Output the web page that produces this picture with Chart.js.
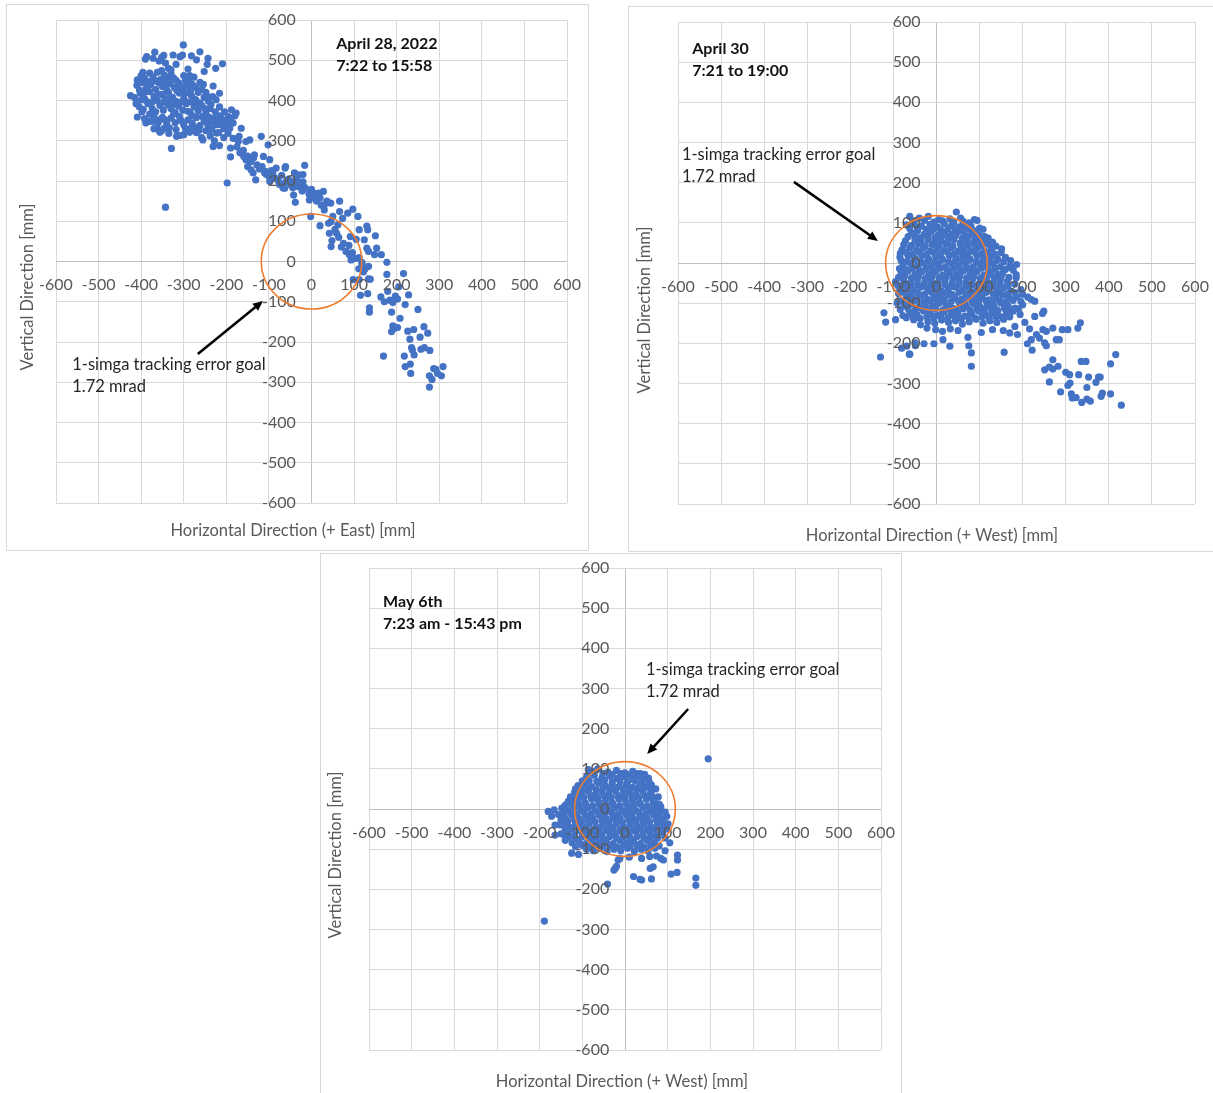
<!DOCTYPE html>
<html>
<head>
<meta charset="utf-8">
<script src="https://cdn.jsdelivr.net/npm/chart.js@4.4.1/dist/chart.umd.min.js"></script>
<style>
  html, body { margin: 0; padding: 0; background: #fff; }
  body { width: 1213px; height: 1093px; position: relative; overflow: hidden; }
  .panel { position: absolute; box-sizing: border-box; border: 1px solid #d9d9d9; background: #fff; }
  canvas { position: absolute; }
</style>
</head>
<body>
<div class="panel" style="left:6px;top:4px;width:583px;height:547px"></div>
<div class="panel" style="left:628px;top:6px;width:590px;height:546px"></div>
<div class="panel" style="left:320px;top:553px;width:582px;height:545px"></div>
<canvas id="c1" width="612" height="576" style="left:6px;top:-26px"></canvas>
<canvas id="c2" width="615" height="575" style="left:628px;top:-24px"></canvas>
<canvas id="c3" width="612" height="570" style="left:320px;top:523px"></canvas>
<script>
// Axis ticks shared by all three plots (mm)
const axisTicks = [-600, -500, -400, -300, -200, -100, 0, 100, 200, 300, 400, 500, 600];

// Radius of the 1-sigma tracking error goal circle (mm)
const goalRadius = 118;

// April 28, 2022 — beam position [horizontal (+East), vertical] in mm
const april28Points = [
  [-301,538],[-387,509],[-390,503],[-368,520],[-352,507],[-325,513],[-343,493],[-336,480],[-309,509],[-303,513],
  [-282,511],[-270,501],[-262,521],[-243,505],[-245,490],[-252,472],[-225,480],[-209,491],[-358,498],[-347,512],
  [-372,505],[-318,490],[-330,476],[-290,478],
  [-400,462],[-392,455],[-380,468],[-372,458],[-362,470],[-355,452],[-346,463],[-338,455],[-330,466],[-318,450],
  [-300,462],[-288,448],[-276,458],[-262,445],[-409,451],[-397,451],
  [-410,438],[-398,445],[-388,432],[-378,440],[-366,428],[-358,444],[-350,435],[-340,426],[-332,441],[-322,432],
  [-312,444],[-302,428],[-294,437],[-284,425],[-272,433],[-258,428],[-248,420],[-231,436],
  [-425,412],[-415,407],[-402,418],[-392,405],[-380,422],[-370,410],[-362,400],[-352,415],[-344,405],[-336,420],
  [-326,408],[-318,398],[-310,418],[-300,405],[-292,396],[-282,412],[-272,402],[-262,394],[-252,408],[-242,398],
  [-232,410],[-216,418],[-399,402],[-387,398],
  [-405,385],[-395,378],[-384,392],[-374,380],[-366,372],[-356,388],[-348,376],[-338,390],[-330,380],[-320,370],
  [-312,386],[-302,376],[-294,392],[-285,370],[-276,384],[-266,374],[-258,388],[-248,368],[-238,380],[-226,372],
  [-214,362],[-204,372],[-290,373],[-188,377],[-177,369],
  [-409,359],[-389,344],[-372,364],[-358,352],[-392,355],[-380,348],[-370,362],[-360,345],[-350,358],[-340,342],
  [-330,356],[-320,345],[-310,360],[-300,340],[-290,352],[-280,344],[-270,358],[-262,338],[-252,350],[-242,336],
  [-232,348],[-222,340],[-210,352],[-200,344],[-190,356],[-180,362],[-211,340],[-200,348],
  [-396,470],[-384,447],[-368,448],[-352,474],[-340,447],[-324,456],[-308,436],[-296,450],[-280,440],[-266,420],
  [-254,440],[-244,410],[-224,402],[-236,390],[-216,384],[-404,426],[-392,420],[-374,396],[-360,416],[-346,396],
  [-334,402],[-322,390],[-306,396],[-296,418],[-280,396],[-270,388],[-250,380],[-240,358],[-228,356],[-196,360],
  [-184,344],[-372,348],[-362,330],[-344,352],[-334,332],[-324,366],[-306,350],[-296,330],[-280,362],[-276,334],
  [-264,326],[-256,360],[-246,344],[-234,330],[-220,352],[-206,330],[-398,372],[-380,366],[-412,392],[-346,440],
  [-316,424],[-286,462],
  [-356,321],[-346,331],[-329,281],[-317,311],[-309,313],[-286,321],[-370,330],[-352,325],[-335,318],[-318,328],
  [-300,315],[-285,330],[-270,320],[-258,308],[-255,302],[-248,325],[-238,312],[-239,327],[-228,300],[-231,286],
  [-223,319],[-218,320],[-216,288],[-206,308],[-196,318],[-192,331],[-184,306],[-172,298],[-190,282],[-165,331],
  [-170,311],[-343,135],[-198,195],
  [-190,260],[-175,285],[-168,270],[-160,276],[-159,261],[-154,298],[-154,253],[-150,262],[-150,236],[-145,302],
  [-142,248],[-142,228],[-137,220],[-136,258],[-134,265],[-131,203],[-128,240],[-122,230],[-118,311],[-116,236],
  [-113,261],[-110,220],[-108,224],[-106,216],[-102,290],[-100,212],[-98,253],[-98,199],[-94,226],[-91,220],
  [-86,208],[-83,232],[-78,200],[-75,191],[-70,214],[-67,183],[-62,232],[-62,196],[-61,236],[-63,182],
  [-54,205],[-48,190],[-44,183],[-42,165],[-40,220],[-40,200],[-38,147],[-37,198],[-36,214],[-32,199],
  [-30,215],[-30,186],[-26,195],[-22,175],[-20,216],[-20,198],[-18,186],[-16,239],[-14,182],[-6,168],
  [-5,153],[0,179],[3,161],[6,160],[11,169],[12,150],[16,170],[17,165],[20,158],[28,174],
  [23,140],[30,128],[30,140],[36,150],[45,145],[66,150],[-2,112],[50,112],[46,99],[40,95],
  [20,89],[62,91],[55,80],[42,70],[59,70],[64,60],[48,52],[46,37],[75,45],[66,124],
  [73,107],[85,120],[97,130],[109,112],[70,36],[81,25],[88,40],[89,17],[91,62],[96,22],
  [105,55],[104,8],[112,79],[130,88],[132,79],[124,54],[130,33],[134,25],[150,64],[153,33],
  [164,17],[148,17],[177,-2],[112,10],[93,4],[118,-2],
  [111,-18],[119,-7],[126,-18],[134,-12],[122,-26],[98,-45],[112,-45],[134,-43],[138,-44],[115,-84],
  [132,-80],[136,-115],[136,-126],[177,-32],[216,-30],[228,-83],[163,-88],[171,-100],[179,-74],[184,-96],
  [191,-102],[197,-86],[202,-93],[205,-63],[220,-107],[188,-126],[208,-141],[191,-160],[195,-166],[202,-164],
  [188,-174],[226,-173],[240,-169],[250,-119],[231,-193],[255,-188],[264,-162],[273,-178],[235,-214],[237,-220],
  [257,-218],[265,-214],[278,-221],[241,-232],[218,-235],[169,-235],[220,-261],[232,-255],[233,-278],[277,-284],
  [283,-293],[287,-266],[292,-268],[296,-278],[305,-284],[309,-261],[277,-312]
];

// April 30 — beam position [horizontal (+West), vertical] in mm
const april30Points = [
  [46,127],[-62,116],[-40,112],[-19,116],[5,108],[31,110],[62,104],[94,106],
  [-52,104],[-28,106],[-6,102],[14,105],[40,103],[56,112],[76,100],[88,108],
  [-70,95],[-52,98],[-35,92],[-15,96],[2,90],[18,98],[35,93],[52,90],[62,95],[80,92],[100,87],
  [-62,86],[-44,88],[-24,84],[-6,86],[10,82],[27,86],[44,84],[58,82],[72,86],[90,80],[108,84],
  [-58,75],[-44,80],[-28,72],[-12,78],[4,70],[20,76],[36,72],[50,78],[66,70],[82,76],[98,70],[112,66],
  [-66,66],[-50,68],[-36,63],[-20,67],[-4,62],[12,66],[28,63],[44,67],[60,62],[74,66],[90,63],[106,66],[120,62],
  [-72,55],[-50,58],[-36,52],[-20,58],[-5,50],[10,56],[25,52],[40,58],[55,50],[70,56],[86,52],[102,56],[112,58],[118,48],[130,52],
  [-76,46],[-58,44],[-42,47],[-26,43],[-10,46],[6,44],[22,47],[38,43],[56,46],[72,44],[88,47],[104,43],[122,46],[138,42],
  [-80,33],[-62,38],[-46,32],[-30,38],[-14,30],[2,36],[18,32],[34,38],[50,30],[64,36],[80,32],[95,38],[112,30],[128,36],[151,35],
  [-84,24],[-70,27],[-54,23],[-38,27],[-22,22],[-6,26],[10,22],[26,27],[42,23],[58,26],[72,22],[88,27],[104,23],[120,26],[136,22],[150,26],
  [-85,15],[-66,18],[-50,12],[-34,18],[-18,10],[-2,16],[14,10],[30,18],[46,12],[62,16],[78,10],[94,18],[110,12],[126,16],[142,10],[160,14],
  [-82,6],[-68,4],[-52,7],[-36,3],[-20,6],[-4,3],[12,7],[28,3],[44,6],[60,4],[76,7],[92,3],[108,6],[124,3],[140,6],[156,3],[172,6],
  [-78,-5],[-60,-2],[-44,-8],[-28,-2],[-12,-8],[4,-4],[20,-10],[36,-2],[52,-8],[68,-4],[84,-10],[100,-2],[116,-8],[132,-4],[148,-10],[170,-8],[174,-12],[186,-4],
  [-86,-14],[-72,-16],[-56,-13],[-40,-17],[-24,-14],[-8,-17],[8,-13],[24,-16],[40,-13],[56,-17],[72,-14],[88,-16],[104,-13],[120,-17],[136,-14],[160,-16],[178,-18],
  [-82,-25],[-66,-20],[-50,-28],[-34,-22],[-18,-28],[-2,-22],[14,-30],[30,-24],[46,-28],[62,-20],[78,-26],[94,-22],[110,-30],[126,-24],[142,-28],[154,-25],[185,-29],
  [-88,-36],[-74,-33],[-58,-37],[-42,-34],[-26,-38],[-10,-33],[6,-37],[22,-34],[38,-38],[54,-33],[70,-37],[86,-34],[102,-38],[118,-33],[134,-37],[150,-34],[168,-36],
  [-95,-46],[-76,-44],[-60,-48],[-44,-42],[-28,-50],[-12,-44],[4,-48],[20,-42],[36,-50],[52,-44],[68,-48],[84,-40],[100,-50],[116,-44],[132,-48],[148,-42],[164,-46],[185,-37],
  [-90,-56],[-76,-53],[-60,-57],[-44,-54],[-28,-58],[-12,-53],[4,-57],[20,-54],[36,-58],[52,-53],[68,-57],[84,-54],[100,-58],[116,-53],[132,-57],[148,-54],[166,-56],[182,-52],
  [-85,-66],[-68,-62],[-52,-68],[-36,-60],[-20,-66],[-4,-62],[12,-70],[28,-64],[44,-60],[60,-68],[76,-62],[92,-70],[108,-64],[124,-60],[140,-68],[156,-62],[172,-70],[196,-66],
  [-88,-76],[-76,-73],[-60,-77],[-44,-74],[-28,-78],[-12,-73],[4,-77],[20,-74],[36,-78],[52,-73],[68,-77],[84,-74],[100,-78],[116,-73],[132,-77],[148,-74],[164,-78],[182,-74],[200,-78],
  [-85,-95],[-70,-84],[-54,-88],[-38,-82],[-22,-90],[-6,-84],[10,-88],[26,-80],[42,-86],[58,-90],[74,-82],[90,-88],[106,-84],[122,-92],[138,-86],[154,-80],[170,-88],[186,-84],[212,-85],[220,-91],
  [-78,-94],[-62,-96],[-46,-93],[-30,-97],[-14,-94],[2,-97],[18,-93],[34,-96],[50,-93],[66,-97],[82,-94],[98,-96],[114,-93],[130,-97],[146,-94],[162,-96],[178,-93],[196,-96],
  [-91,-100],[-74,-106],[-58,-102],[-42,-110],[-26,-104],[-10,-108],[6,-100],[22,-106],[38,-112],[54,-104],[70,-108],[86,-102],[102,-110],[118,-104],[134,-108],[150,-100],[166,-106],[182,-112],[200,-104],[228,-95],
  [-84,-116],[-66,-114],[-50,-118],[-34,-113],[-18,-117],[-2,-114],[14,-118],[30,-113],[46,-117],[62,-114],[78,-118],[94,-113],[110,-117],[126,-114],[142,-118],[158,-113],[174,-117],[190,-114],
  [-122,-124],[-78,-131],[-62,-124],[-46,-128],[-30,-120],[-14,-126],[2,-130],[18,-122],[34,-128],[50,-124],[66,-132],[82,-126],[98,-120],[114,-128],[130,-124],[146,-132],[162,-126],[178,-120],[194,-128],[228,-133],[246,-126],[249,-120],
  [-70,-136],[-54,-134],[-38,-138],[-22,-134],[-6,-137],[10,-133],[26,-137],[42,-134],[58,-138],[74,-133],[90,-137],[106,-134],[122,-138],[138,-133],[154,-136],[170,-134],
  [-118,-147],[-95,-141],[-53,-141],[-37,-154],[-20,-146],[-4,-150],[12,-142],[28,-148],[44,-144],[60,-152],[76,-146],[92,-140],[108,-150],[124,-144],[140,-148],[156,-140],[182,-158],[205,-148],
  [-22,-162],[-2,-166],[14,-170],[32,-164],[50,-168],[-130,-234],[-81,-212],[-62,-227],[-49,-206],[-29,-201],
  [-6,-201],[-69,-207],[-63,-227],[-50,-199],[15,-191],[31,-207],[73,-185],[75,-206],[81,-224],[81,-257],
  [104,-173],[130,-166],[155,-168],[157,-222],[170,-174],[188,-178],[211,-201],[216,-164],[220,-191],[222,-217],
  [232,-178],[239,-187],[247,-166],[251,-199],[255,-206],[255,-170],[270,-162],[278,-191],[285,-191],[292,-166],
  [305,-166],[328,-162],[334,-149],[270,-241],[251,-266],[262,-259],[270,-264],[282,-257],[262,-296],[300,-272],
  [309,-278],[310,-299],[305,-305],[288,-321],[313,-326],[315,-336],[324,-335],[337,-347],[349,-339],[357,-344],
  [330,-278],[336,-245],[347,-245],[353,-284],[349,-310],[370,-297],[376,-284],[380,-284],[385,-324],[382,-332],
  [404,-251],[416,-228],[404,-326],[429,-354]
];

// May 6th — beam position [horizontal (+West), vertical] in mm
const may6Points = [
  [-86,98],[-64,100],[-40,92],[-20,96],[0,90],[18,94],[36,88],[-74,94],
  [-76,88],[-52,89],[-30,86],[-10,88],[10,85],[28,88],[46,86],
  [-90,80],[-72,84],[-54,78],[-36,82],[-18,76],[0,80],[18,74],[34,82],[50,76],[23,77],[43,83],[55,77],
  [-100,70],[-84,71],[-66,69],[-48,72],[-30,68],[-12,70],[6,67],[24,70],[40,68],[56,70],
  [-110,58],[-94,62],[-78,56],[-62,64],[-46,58],[-30,62],[-14,56],[2,60],[18,54],[34,62],[50,56],[62,60],
  [-116,50],[-100,49],[-84,52],[-68,48],[-52,51],[-36,49],[-20,52],[-4,48],[12,51],[28,49],[44,52],[60,48],[72,50],
  [-121,27],[-118,42],[-102,38],[-86,44],[-70,36],[-54,42],[-38,38],[-22,44],[-6,36],[10,42],[26,38],[42,44],[58,36],[62,36],[70,27],
  [-128,30],[-112,31],[-96,29],[-80,32],[-64,28],[-48,31],[-32,29],[-16,32],[0,28],[16,31],[32,29],[48,32],[64,28],[78,30],
  [-133,19],[-126,18],[-110,22],[-94,16],[-78,24],[-62,18],[-46,22],[-30,16],[-14,24],[2,18],[18,22],[34,16],[50,24],[66,18],[80,12],
  [-140,10],[-124,12],[-108,9],[-92,11],[-76,8],[-60,11],[-44,9],[-28,12],[-12,8],[4,11],[20,9],[36,12],[52,8],[68,11],[84,6],
  [-180,-6],[-166,-2],[-148,2],[-134,-2],[-118,4],[-102,-2],[-86,4],[-70,-4],[-54,2],[-38,-2],[-22,4],[-6,-4],[10,2],[26,-4],[42,4],[58,-2],[74,2],[86,-6],
  [-144,-11],[-128,-8],[-112,-12],[-96,-9],[-80,-12],[-64,-8],[-48,-11],[-32,-9],[-16,-12],[0,-8],[16,-11],[32,-9],[48,-12],[64,-8],[80,-11],[94,-8],
  [-172,-18],[-156,-14],[-140,-22],[-124,-16],[-108,-24],[-92,-18],[-76,-22],[-60,-16],[-44,-24],[-28,-18],[-12,-22],[4,-16],[20,-24],[36,-18],[52,-22],[68,-16],[84,-24],[98,-18],
  [-150,-28],[-134,-31],[-118,-28],[-102,-32],[-86,-29],[-70,-32],[-54,-28],[-38,-31],[-22,-29],[-6,-32],[10,-28],[26,-31],[42,-29],[58,-32],[74,-28],[90,-31],
  [-164,-40],[-152,-40],[-140,-40],[-148,-36],[-132,-44],[-116,-38],[-100,-42],[-84,-36],[-68,-44],[-52,-38],[-36,-42],[-20,-36],[-4,-44],[12,-38],[28,-42],[44,-36],[60,-44],[76,-38],[92,-42],[101,-37],
  [-140,-52],[-124,-49],[-108,-52],[-92,-48],[-76,-51],[-60,-49],[-44,-52],[-28,-48],[-12,-51],[4,-49],[20,-52],[36,-48],[52,-51],[68,-49],[84,-52],[98,-50],
  [-164,-65],[-150,-62],[-140,-69],[-134,-58],[-118,-64],[-102,-56],[-86,-62],[-70,-58],[-54,-64],[-38,-56],[-22,-62],[-6,-58],[10,-64],[26,-56],[42,-62],[58,-58],[74,-64],[88,-60],
  [-132,-70],[-116,-73],[-100,-69],[-84,-72],[-68,-70],[-52,-73],[-36,-69],[-20,-72],[-4,-70],[12,-73],[28,-69],[44,-72],[60,-70],[76,-73],[94,-72],
  [-140,-78],[-124,-84],[-108,-80],[-92,-86],[-76,-78],[-60,-84],[-44,-80],[-28,-86],[-12,-78],[4,-84],[20,-80],[36,-86],[52,-78],[68,-84],[105,-84],
  [-116,-94],[-100,-91],[-84,-94],[-68,-90],[-52,-93],[-36,-91],[-20,-94],[-4,-90],[12,-93],[28,-91],[44,-94],[60,-90],[80,-92],
  [-125,-110],[-109,-113],[-90,-100],[-74,-104],[-58,-98],[-42,-106],[-26,-100],[-10,-104],[6,-98],[22,-106],[38,-100],[54,-104],[70,-98],[94,-104],
  [-23,-148],[-16,-127],[-12,-123],[10,-120],[39,-123],[58,-118],[74,-117],[84,-123],[90,-127],[123,-115],
  [123,-127],[-41,-187],[-26,-152],[-20,-143],[20,-168],[35,-175],[39,-177],[59,-148],[66,-144],[62,-174],
  [108,-162],[122,-158],[166,-172],[166,-190],[195,125],[-189,-279]
];

// Text for each plot
const panelTexts = [
  { heading: ['April 28, 2022', '7:22 to 15:58'], xTitle: 'Horizontal Direction (+ East) [mm]' },
  { heading: ['April 30', '7:21 to 19:00'], xTitle: 'Horizontal Direction (+ West) [mm]' },
  { heading: ['May 6th', '7:23 am - 15:43 pm'], xTitle: 'Horizontal Direction (+ West) [mm]' }
];
const yTitle = 'Vertical Direction [mm]';
const noteLines = ['1-simga tracking error goal', '1.72 mrad'];

// Placement of the annotations (data units for in-plot items, canvas px for axis titles)
const layoutSpecs = [
  { id: 'c1', padding: {left: 50, top: 46, right: 51, bottom: 47}, headingAt: [58, 540], noteAt: [-562, -257],
    arrow: [-267, -230, -114, -98], xTitleAt: [287, 557], yTitleAt: [22, 313] },
  { id: 'c2', padding: {left: 50, top: 46, right: 48, bottom: 47}, headingAt: [-567, 533], noteAt: [-591, 269],
    arrow: [-331, 202, -136, 55], xTitleAt: [304, 560], yTitleAt: [17, 334] },
  { id: 'c3', padding: {left: 49, top: 45, right: 51, bottom: 43}, headingAt: [-567, 515], noteAt: [49, 346],
    arrow: [148, 249, 52, 137], xTitleAt: [302, 559], yTitleAt: [16, 332] }
];

const seriesList = [april28Points, april30Points, may6Points];

function annotations(spec, text) {
  return {
    id: 'annotations',
    afterDraw(chart) {
      const ctx = chart.ctx, xs = chart.scales.x, ys = chart.scales.y;
      const X = v => xs.getPixelForValue(v), Y = v => ys.getPixelForValue(v);
      ctx.save();
      // goal circle around the origin
      ctx.strokeStyle = '#ED7D31';
      ctx.lineWidth = 1.6;
      ctx.beginPath();
      ctx.ellipse(X(0), Y(0), X(goalRadius) - X(0), Y(0) - Y(goalRadius), 0, 0, Math.PI * 2);
      ctx.stroke();
      // arrow pointing at the circle
      const x1 = X(spec.arrow[0]), y1 = Y(spec.arrow[1]), x2 = X(spec.arrow[2]), y2 = Y(spec.arrow[3]);
      const a = Math.atan2(y2 - y1, x2 - x1), hl = 10, hw = 4.5;
      ctx.strokeStyle = '#000';
      ctx.fillStyle = '#000';
      ctx.lineWidth = 2.5;
      ctx.beginPath();
      ctx.moveTo(x1, y1);
      ctx.lineTo(x2 - hl * 0.8 * Math.cos(a), y2 - hl * 0.8 * Math.sin(a));
      ctx.stroke();
      ctx.beginPath();
      ctx.moveTo(x2, y2);
      ctx.lineTo(x2 - hl * Math.cos(a) + hw * Math.sin(a), y2 - hl * Math.sin(a) - hw * Math.cos(a));
      ctx.lineTo(x2 - hl * Math.cos(a) - hw * Math.sin(a), y2 - hl * Math.sin(a) + hw * Math.cos(a));
      ctx.closePath();
      ctx.fill();
      // heading and note
      ctx.textBaseline = 'middle';
      ctx.textAlign = 'left';
      ctx.font = 'bold 16px Lato';
      ctx.fillStyle = '#111';
      text.heading.forEach((t, i) => ctx.fillText(t, X(spec.headingAt[0]), Y(spec.headingAt[1]) + i * 22));
      ctx.font = '16.5px Lato';
      ctx.fillStyle = '#262626';
      noteLines.forEach((t, i) => ctx.fillText(t, X(spec.noteAt[0]), Y(spec.noteAt[1]) + i * 22));
      // axis titles
      ctx.fillStyle = '#595959';
      ctx.textAlign = 'center';
      ctx.fillText(text.xTitle, spec.xTitleAt[0], spec.xTitleAt[1]);
      ctx.translate(spec.yTitleAt[0], spec.yTitleAt[1]);
      ctx.rotate(-Math.PI / 2);
      ctx.fillText(yTitle, 0, 0);
      ctx.restore();
    }
  };
}

// Value axes cross at the origin; the zero lines are a shade darker
function axis(pos) {
  return {
    type: 'linear', min: -600, max: 600, position: pos,
    afterBuildTicks: s => { s.ticks = axisTicks.map(v => ({ value: v })); },
    grid: { color: c => (c.tick && c.tick.value === 0 ? '#bfbfbf' : '#d9d9d9'), lineWidth: 1, drawTicks: false },
    border: { display: false },
    ticks: { z: 1, color: '#595959', font: { family: 'Lato', size: 16 }, autoSkip: false, maxRotation: 0, padding: 14 }
  };
}

layoutSpecs.forEach((spec, i) => {
  new Chart(document.getElementById(spec.id), {
    type: 'scatter',
    data: {
      datasets: [{
        data: seriesList[i].map(p => ({ x: p[0], y: p[1] })),
        backgroundColor: '#4472C4',
        borderWidth: 0,
        pointRadius: 3.6
      }]
    },
    options: {
      responsive: false,
      animation: false,
      devicePixelRatio: 1,
      events: [],
      layout: { padding: spec.padding },
      plugins: { legend: { display: false }, tooltip: { enabled: false } },
      // y labels sit right-aligned at x = -37 mm, i.e. about 16 px left of the zero line
      scales: { x: axis({ y: 0 }), y: axis({ x: -37 }) }
    },
    plugins: [annotations(spec, panelTexts[i])]
  });
});
</script>
</body>
</html>
